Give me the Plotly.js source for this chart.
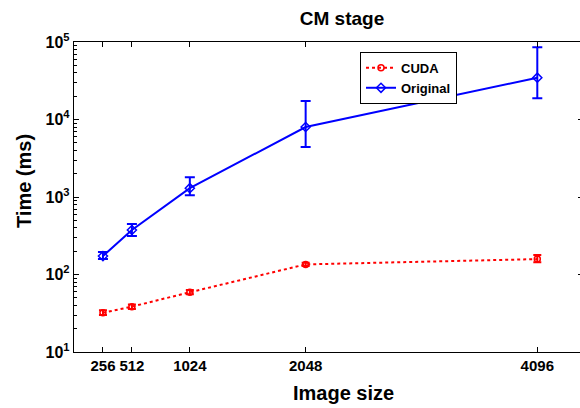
<!DOCTYPE html>
<html><head><meta charset="utf-8">
<script src="https://cdn.plot.ly/plotly-3.0.1.min.js"></script>
<style>html,body{margin:0;padding:0;overflow:hidden;background:#fff;width:580px;height:408px}</style>
</head><body><div id="chart"></div>
<script>
const imageSizes = [256, 512, 1024, 2048, 4096];
const cudaTime = [32, 38.5, 59, 135, 158];
const cudaHigh = [34.5, 41, 63, 142, 178];
const cudaLow = [30, 36, 55.5, 129, 144];
const origTime = [173, 375, 1300, 8000, 34600];
const origHigh = [195, 449, 1795, 17300, 85500];
const origLow = [158, 314, 1052, 4420, 18800];
const yTickVals = [10, 100, 1000, 10000, 100000];
const yTickText = ['10<sup>1</sup>','10<sup>2</sup>','10<sup>3</sup>','10<sup>4</sup>','10<sup>5</sup>'];

const up = (v, h) => v.map((x, i) => h[i] - x);
const dn = (v, l) => v.map((x, i) => x - l[i]);
const fnt = {family: 'Liberation Sans, Arial, Helvetica, sans-serif', color: '#000', weight: 'bold'};

const traces = [
  {x: imageSizes, y: cudaTime, name: 'CUDA', type: 'scatter', mode: 'lines+markers',
   line: {color: '#ff0000', width: 2, dash: 'dot'},
   marker: {symbol: 'circle-open', size: 6, color: '#ff0000', line: {width: 1.5}},
   error_y: {type: 'data', symmetric: false, array: up(cudaTime, cudaHigh), arrayminus: dn(cudaTime, cudaLow),
             color: '#ff0000', thickness: 2, width: 4}},
  {x: imageSizes, y: origTime, name: 'Original', type: 'scatter', mode: 'lines+markers',
   line: {color: '#0000ff', width: 2},
   marker: {symbol: 'diamond-open', size: 7, color: '#0000ff', line: {width: 1.5}},
   error_y: {type: 'data', symmetric: false, array: up(origTime, origHigh), arrayminus: dn(origTime, origLow),
             color: '#0000ff', thickness: 2, width: 5}}
];

const layout = {
  width: 590, height: 408,
  margin: {l: 74, r: 7, t: 42, b: 56},
  paper_bgcolor: '#fff', plot_bgcolor: '#fff',
  title: {text: 'CM stage', font: Object.assign({}, fnt, {size: 19}), x: 342 / 590, xanchor: 'center', y: 1 - 18 / 408, yanchor: 'middle'},
  xaxis: {
    range: [0, 4500], tickvals: imageSizes, ticktext: imageSizes.map(String),
    ticks: 'inside', ticklen: 5, tickcolor: '#000', mirror: 'ticks',
    showline: true, linecolor: '#000', linewidth: 1.2, showgrid: false, zeroline: false,
    tickfont: Object.assign({}, fnt, {size: 15})
  },
  yaxis: {
    type: 'log', range: [1, 5], tickvals: yTickVals, ticktext: yTickText,
    ticks: 'inside', ticklen: 5, tickcolor: '#000', mirror: 'ticks',
    minor: {ticks: 'inside', ticklen: 3, tickcolor: '#000', dtick: 'D1', showgrid: false},
    showline: true, linecolor: '#000', linewidth: 1.2, showgrid: false, zeroline: false,
    tickfont: Object.assign({}, fnt, {size: 16})
  },
  annotations: [
    {text: 'Image size', xref: 'paper', yref: 'paper', x: (343 - 74) / 509, y: (352 - 393) / 310,
     xanchor: 'center', yanchor: 'middle', showarrow: false, font: Object.assign({}, fnt, {size: 20})},
    {text: 'Time (ms)', xref: 'paper', yref: 'paper', x: (24 - 74) / 509, y: (352 - 181) / 310,
     xanchor: 'center', yanchor: 'middle', textangle: -90, showarrow: false, font: Object.assign({}, fnt, {size: 20})}
  ],
  showlegend: true,
  legend: {x: (360 - 74) / 509, y: 0.968, xanchor: 'left', yanchor: 'top', bgcolor: '#fff', bordercolor: '#000', borderwidth: 1,
           font: Object.assign({}, fnt, {size: 13}), tracegroupgap: 0, itemwidth: 30}
};
Plotly.newPlot('chart', traces, layout, {displayModeBar: false, staticPlot: true});
</script></body></html>
